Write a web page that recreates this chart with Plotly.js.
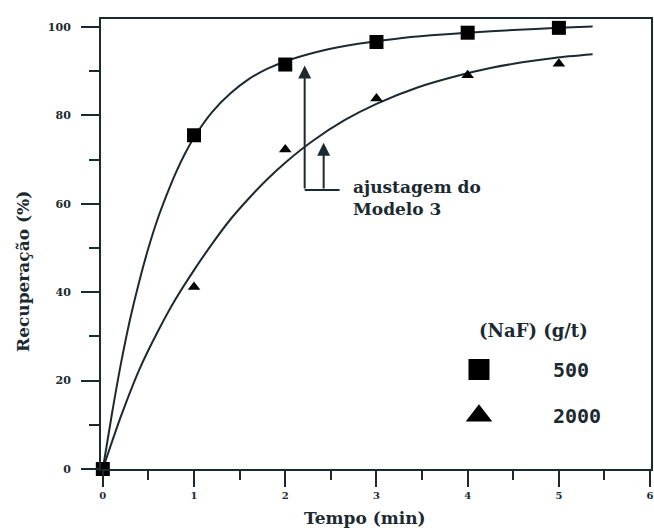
<!DOCTYPE html>
<html><head><meta charset="utf-8">
<script src="https://cdn.plot.ly/plotly-3.0.1.min.js"></script>
<style>html,body{margin:0;padding:0;background:#fff}#chart{width:654px;height:532px}</style>
</head><body><div id="chart"></div>
<script>
// measured points
const tempo = [0, 1, 2, 3, 4, 5];
const rec500 = [0, 75.5, 91.5, 96.6, 98.7, 99.8];
const tempo2000 = [1, 2, 3, 4, 5];
const rec2000 = [41.2, 72.3, 83.8, 89.1, 91.7];
// fitted curves (Modelo 3)
const fitT500 = [0, 0.1, 0.2, 0.3, 0.4, 0.5, 0.6, 0.7, 0.8, 0.9, 1.0, 1.2, 1.4, 1.6, 1.8, 2.0, 2.4, 2.8, 3.2, 3.6, 4.0, 4.5, 5.0, 5.37];
const fitR500 = [0, 12.5, 24, 34, 42.5, 50, 56.5, 62, 67, 71.3, 75, 80.8, 85, 88.2, 90.5, 92.2, 94.6, 96.2, 97.3, 98.1, 98.7, 99.3, 99.8, 100.1];
const fitT2000 = [0, 0.2, 0.4, 0.6, 0.8, 1.0, 1.2, 1.4, 1.6, 1.8, 2.0, 2.3, 2.65, 3.0, 3.45, 3.9, 4.25, 4.6, 4.95, 5.37];
const fitR2000 = [0, 12, 22.5, 31, 38.5, 45, 51, 56.5, 61.2, 65.5, 69.3, 74.2, 78.9, 82.6, 86.3, 89, 90.7, 92, 93, 93.8];
const xTicks = [0, 1, 2, 3, 4, 5, 6];
const yTicks = [0, 20, 40, 60, 80, 100];
const legendNames = ['500', '2000'];
const legendTitle = '(NaF) (g/t)';
const xTitle = 'Tempo (min)';
const yTitle = 'Recuperação (%)';
const noteText = 'ajustagem do<br>Modelo 3';

const INK = '#1b2a30';
const serif = 'DejaVu Serif, serif';

const traces = [
  {x: fitT500, y: fitR500, mode: 'lines', line: {color: INK, width: 2, shape: 'spline', smoothing: 0.8}, showlegend: false, hoverinfo: 'skip'},
  {x: fitT2000, y: fitR2000, mode: 'lines', line: {color: INK, width: 2, shape: 'spline', smoothing: 0.8}, showlegend: false, hoverinfo: 'skip'},
  {x: tempo, y: rec500, mode: 'markers', marker: {symbol: 'square', size: 14, color: '#000'}, showlegend: false, cliponaxis: false},
  {x: tempo2000, y: rec2000, mode: 'markers', marker: {symbol: 'triangle-up', size: 11, color: '#000'}, showlegend: false, cliponaxis: false},
  {x: [null], y: [null], mode: 'markers', name: legendNames[0], legendgroup: 'a', marker: {symbol: 'square', size: 16, color: '#000', line: {color: '#000', width: 5}}},
  {x: [null], y: [null], mode: 'markers', name: legendNames[1], legendgroup: 'b', marker: {symbol: 'triangle-up', size: 16, color: '#000', line: {color: '#000', width: 4}}}
];

const layout = {
  width: 654, height: 532,
  margin: {l: 101, r: 3, t: 19, b: 63},
  paper_bgcolor: '#fff', plot_bgcolor: '#fff',
  showlegend: true,
  legend: {
    x: 0.5527, y: 0.17, xanchor: 'left', yanchor: 'middle',
    bgcolor: 'rgba(0,0,0,0)', itemwidth: 138, traceorder: 'grouped', tracegroupgap: 17,
    font: {family: 'DejaVu Sans Mono, monospace', size: 20, color: INK, weight: 'bold'}
  },
  xaxis: {
    range: [-0.02, 6.01], tickvals: xTicks, ticktext: xTicks.map(String),
    ticks: 'outside', ticklen: 16, tickwidth: 2, tickcolor: INK,
    minor: {dtick: 0.5, ticks: 'outside', ticklen: 9, tickwidth: 2, tickcolor: INK},
    showline: true, linecolor: INK, linewidth: 2, mirror: true,
    showgrid: false, zeroline: false,
    tickfont: {family: serif, size: 10, color: INK, weight: 'bold'}
  },
  yaxis: {
    range: [0, 101.8], tickvals: yTicks, ticktext: yTicks.map(String),
    ticks: 'outside', ticklen: 18, tickwidth: 2, tickcolor: INK,
    minor: {dtick: 10, ticks: 'outside', ticklen: 10, tickwidth: 2, tickcolor: INK},
    showline: true, linecolor: INK, linewidth: 2, mirror: true,
    showgrid: false, zeroline: false,
    tickfont: {family: serif, size: 11, color: INK, weight: 'bold'},
    ticklabelstandoff: 8
  },
  shapes: [
    {type: 'line', xref: 'x', yref: 'y', x0: 2.213, y0: 63.1, x1: 2.596, y1: 63.1, line: {color: INK, width: 2}}
  ],
  annotations: [
    {xref: 'x', yref: 'y', axref: 'x', ayref: 'y', x: 2.213, y: 91.3, ax: 2.213, ay: 63.1, text: '', showarrow: true, arrowhead: 2, arrowsize: 1.3, arrowwidth: 2, arrowcolor: INK},
    {xref: 'x', yref: 'y', axref: 'x', ayref: 'y', x: 2.421, y: 73.8, ax: 2.421, ay: 63.1, text: '', showarrow: true, arrowhead: 2, arrowsize: 1.3, arrowwidth: 2, arrowcolor: INK},
    {xref: 'x', yref: 'y', x: 2.72, y: 61.2, xanchor: 'left', yanchor: 'middle', align: 'left', showarrow: false,
     text: '<b>' + noteText + '</b>', font: {family: serif, size: 17, color: INK}},
    {xref: 'paper', yref: 'paper', x: (477 - 101) / 550, y: (469 - 330) / 450, xanchor: 'left', yanchor: 'middle', showarrow: false,
     text: '<b>' + legendTitle + '</b>', font: {family: serif, size: 18, color: INK}},
    {xref: 'paper', yref: 'paper', x: (365 - 101) / 550, y: (469 - 518) / 450, xanchor: 'center', yanchor: 'middle', showarrow: false,
     text: '<b>' + xTitle + '</b>', font: {family: serif, size: 17, color: INK}},
    {xref: 'paper', yref: 'paper', x: (23 - 101) / 550, y: (469 - 272) / 450, xanchor: 'center', yanchor: 'middle', textangle: -90, showarrow: false,
     text: '<b>' + yTitle + '</b>', font: {family: serif, size: 17, color: INK}}
  ]
};

Plotly.newPlot('chart', traces, layout, {displayModeBar: false, staticPlot: true});
</script></body></html>
